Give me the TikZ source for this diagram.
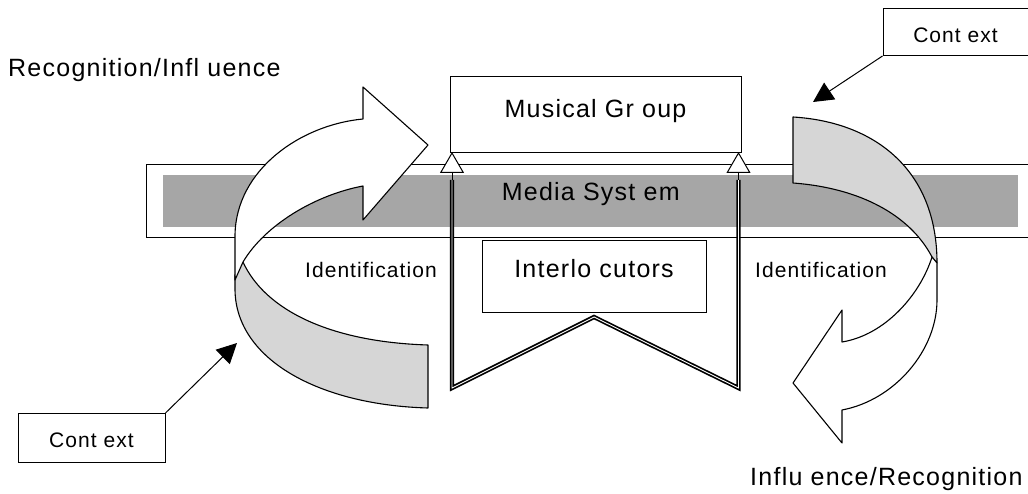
\documentclass[tikz,border=0pt]{standalone}
\usepackage{fontspec}
\setmainfont{Liberation Sans}[LetterSpace=5]
\usetikzlibrary{arrows.meta}

\definecolor{bandgray}{RGB}{166,166,166}
\definecolor{ribbongray}{RGB}{214,214,214}
\newcommand{\bigfont}{\fontsize{25}{30}\selectfont}
\newcommand{\smallfont}{\fontsize{21}{25}\selectfont}

\tikzset{
  box/.style={draw, fill=white, line width=1pt, inner ysep=4pt},
  ribbon/.style={draw, line width=1.1pt, line join=round},
  dbl/.style={double, double distance=0.9pt, line width=1.7pt},
  openhead/.style={line width=1pt, -{Triangle[length=21pt, width=24pt, fill=white]}},
  ctxarrow/.style={line width=1pt, -{Triangle[length=20pt, width=20pt]}}
}

\begin{document}
\begin{tikzpicture}[x=1pt, y=-1pt]
          \useasboundingbox (0,0) rectangle (1028,494);

          % Media band
          \node[draw, line width=1pt, minimum width=894pt, minimum height=73pt, inner sep=0pt, anchor=north west] (media) at (146,164) {};
          \node[fill=bandgray, minimum width=855pt, text height=25pt, text depth=27pt, inner ysep=0pt, anchor=north west, font=\bigfont] (band) at (163,175) {Media Syst em};

          % Musical group on top
          \node[box, minimum width=291pt, text height=37pt, text depth=31pt, anchor=north, font=\bigfont] (group) at (595.5,76) {Musical Gr oup};

          % Left ribbon, back part
          \draw[ribbon, fill=ribbongray] (243,262) .. controls (265,310) and (330,342) .. (428,345)
                -- (428,408) .. controls (320,405) and (236,360) .. (235,290) -- (235,275) -- cycle;

          % Left ribbon, front part with arrow head
          \draw[ribbon, fill=white] (363,186) -- (363,220) -- (428,145) -- (363,87) -- (363,119)
                .. controls (300,125) and (236,170) .. (235,235) -- (235,280)
                -- (243,262) .. controls (265,225) and (315,195) .. (363,186) -- cycle;

          % Right ribbon, back part
          \draw[ribbon, fill=ribbongray] (793,117) .. controls (875,122) and (937,170) .. (937,263)
                -- (932,257) .. controls (910,215) and (860,188) .. (793,183) -- cycle;

          % Right ribbon, front part with arrow head
          \draw[ribbon, fill=white] (932,257) .. controls (920,295) and (885,335) .. (842,342)
                -- (842,310) -- (793,383) -- (842,443) -- (842,410)
                .. controls (895,400) and (937,350) .. (937,300) -- (937,263) -- cycle;

          % Interlocutors
          \node[box, minimum width=224pt, text height=33pt, text depth=31pt, anchor=north, font=\bigfont] (talk) at (594,240) {Interlo cutors};

          % Double line from the interlocutors up to the group
          \coordinate (tipL) at (452,152);
          \coordinate (tipR) at (738.5,152);
          \coordinate (baseL) at (452,180);
          \coordinate (baseR) at (738.5,180);
          \coordinate (footL) at (452,388);
          \coordinate (apex) at (594,317);
          \coordinate (footR) at (738.5,388);
          \draw[dbl] (baseL) -- (footL) -- (apex) -- (footR) -- (baseR);
          \draw[openhead] (baseL) -- (tipL);
          \draw[openhead] (baseR) -- (tipR);

          % Context boxes
          \node[box, minimum width=145pt, text height=30pt, text depth=9pt, anchor=north, font=\smallfont] (ctxR) at (955.5,8) {Cont ext};
          \node[box, minimum width=147pt, text height=30pt, text depth=11pt, anchor=north, font=\smallfont] (ctxL) at (91.5,413) {Cont ext};
          \coordinate (ctxRtip) at (813,102);
          \coordinate (ctxLtip) at (237,343);
          \draw[ctxarrow] (ctxR.south west) -- (ctxRtip);
          \draw[ctxarrow] (ctxL.north east) -- (ctxLtip);

          % Labels
          \node[anchor=base west, inner sep=0pt, font=\bigfont] (recog) at (8,77) {Recognition/Infl uence};
          \node[anchor=base west, inner sep=0pt, font=\bigfont] (infl) at (750,485) {Influ ence/Recognition};
          \node[anchor=base west, inner sep=0pt, font=\smallfont] (identL) at (305,278) {Identification};
          \node[anchor=base west, inner sep=0pt, font=\smallfont] (identR) at (755,278) {Identification};

        \end{tikzpicture}
\end{document}
